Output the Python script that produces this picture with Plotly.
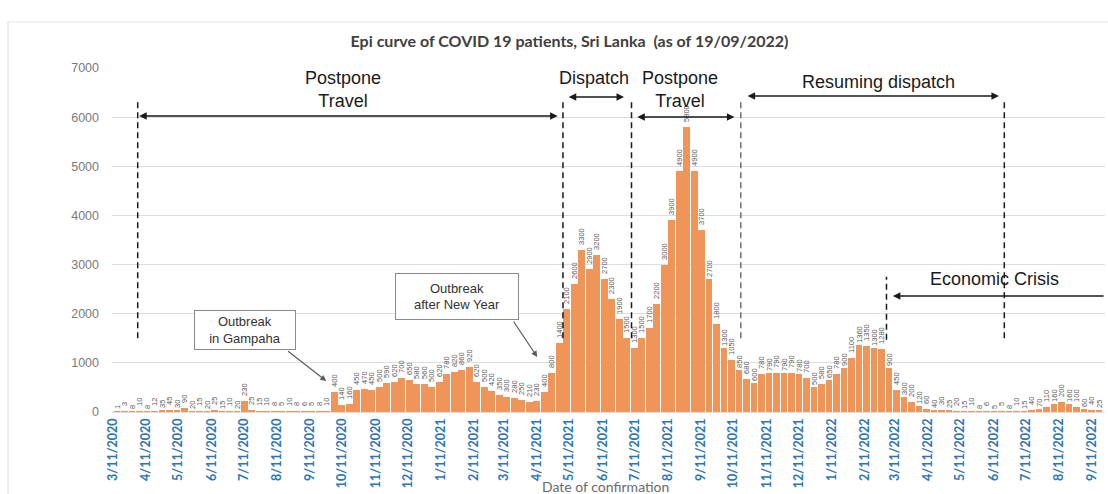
import pandas as pd
import plotly.graph_objects as go

# ---------------- data (weekly readings of the daily curve) ----------------
week_start = "2020-03-11"
weekly_cases = [
    1, 3, 8, 10, 8, 12, 35, 45, 30, 90,
    20, 15, 20, 25, 15, 10, 20, 230, 25, 15,
    10, 8, 5, 10, 8, 6, 5, 8, 10,
    400, 140, 160, 450, 470, 450, 500, 590, 620, 700,
    650, 580, 560, 500, 620, 780, 820, 860, 920, 620,
    500, 420, 350, 300, 280, 250, 210, 230, 400, 800,
    1400, 2100, 2600, 3300, 2900, 3200, 2700, 2300, 1900, 1500,
    1300, 1500, 1700, 2200, 3000, 3900, 4900, 5800, 4900, 3700,
    2700, 1800, 1300, 1050, 850, 680, 600, 780, 790, 790,
    790, 790, 780, 700, 500, 580, 650, 780, 900, 1100,
    1360, 1350, 1300, 1280, 900, 450, 300, 200, 120, 60,
    40, 30, 25, 20, 15, 10, 8, 6, 5, 5,
    8, 10, 15, 40, 70, 110, 160, 200, 160, 100,
    60, 40, 25,
]
tick_labels = [
    "3/11/2020", "4/11/2020", "5/11/2020", "6/11/2020", "7/11/2020", "8/11/2020",
    "9/11/2020", "10/11/2020", "11/11/2020", "12/11/2020", "1/11/2021", "2/11/2021",
    "3/11/2021", "4/11/2021", "5/11/2021", "6/11/2021", "7/11/2021", "8/11/2021",
    "9/11/2021", "10/11/2021", "11/11/2021", "12/11/2021", "1/11/2022", "2/11/2022",
    "3/11/2022", "4/11/2022", "5/11/2022", "6/11/2022", "7/11/2022", "8/11/2022",
    "9/11/2022",
]

title_text = "Epi curve of COVID 19 patients, Sri Lanka  (as of 19/09/2022)"
x_title = "Date of confirmation"

# ---------------- figure ----------------
bar_x = pd.date_range(week_start, periods=len(weekly_cases), freq="7D") + pd.Timedelta(hours=84)
tick_vals = pd.to_datetime(tick_labels, format="%m/%d/%Y")
DAY_MS = 86400000

fig = go.Figure()
fig.add_bar(
    x=bar_x, y=weekly_cases,
    width=7 * DAY_MS * 0.88,
    marker=dict(color="#F0955A", line=dict(width=0)),
    text=["\u00a0" + str(v) for v in weekly_cases],
    textposition="outside", textangle=-90,
    textfont=dict(family="Liberation Sans", size=7.5, color="#5a5a5a"),
    constraintext="none", cliponaxis=False,
    hoverinfo="x+y",
)

BLACK = "#1a1a1a"
shapes = []
# vertical dashed separators
for d, y0, y1, col in [
    ("2020-04-03", 1500, 6350, BLACK),
    ("2021-05-05", 1500, 6350, BLACK),
    ("2021-07-08", 1500, 6350, BLACK),
    ("2021-10-18", 1500, 6350, "#707070"),
    ("2022-06-21", 1500, 6350, BLACK),
    ("2022-03-03", 1470, 2750, BLACK),
]:
    shapes.append(dict(type="line", xref="x", yref="y", x0=d, x1=d, y0=y0, y1=y1,
                       line=dict(color=col, width=1.5, dash="6px,4px")))
# light chart frame
shapes.append(dict(type="line", xref="paper", yref="paper", x0=-0.1047, x1=-0.1047,
                   y0=1.134, y1=-0.3, line=dict(color="#d9d9d9", width=1)))
shapes.append(dict(type="line", xref="paper", yref="paper", x0=-0.1047, x1=1.01,
                   y0=1.134, y1=1.134, line=dict(color="#e6e6e6", width=1)))

ann = []
# double-headed period arrows
for a, b, y in [
    ("2020-04-03", "2021-04-30", 6024),
    ("2021-05-09", "2021-07-01", 6410),
    ("2021-07-12", "2021-10-12", 6003),
    ("2021-10-23", "2022-06-16", 6430),
]:
    ann.append(dict(x=b, y=y, ax=a, ay=y, xref="x", yref="y", axref="x", ayref="y",
                    text="", showarrow=True, arrowside="end+start",
                    arrowhead=2, startarrowhead=2, arrowsize=1, startarrowsize=1,
                    arrowwidth=1.5, arrowcolor=BLACK))
# economic crisis arrow
ann.append(dict(x="2022-03-09", y=2360, ax="2022-09-23", ay=2360, xref="x", yref="y",
                axref="x", ayref="y", text="", showarrow=True, arrowhead=2,
                arrowsize=1, arrowwidth=1.5, arrowcolor=BLACK))

big = dict(family="Liberation Sans", size=18, color=BLACK)
for x, y, t in [
    ("2020-10-12", 6553, "Postpone<br>Travel"),
    ("2021-06-03", 6797, "Dispatch"),
    ("2021-08-22", 6553, "Postpone<br>Travel"),
    ("2022-02-24", 6722, "Resuming dispatch"),
    ("2022-06-12", 2707, "Economic Crisis"),
]:
    ann.append(dict(x=x, y=y, xref="x", yref="y", text=t, showarrow=False, font=big))

small = dict(family="Liberation Sans", size=13, color="#333333")
ann.append(dict(x="2020-07-12", y=1669, xref="x", yref="y", text="Outbreak<br>in Gampaha",
                showarrow=False, font=small, bordercolor="#8a8a8a", borderwidth=1,
                borderpad=2, bgcolor="white", width=96, height=34))
ann.append(dict(x="2021-01-26", y=2350, xref="x", yref="y", text="Outbreak<br>after New Year",
                showarrow=False, font=small, bordercolor="#8a8a8a", borderwidth=1,
                borderpad=2, bgcolor="white", width=118, height=41))
for tip, tipy, tail, taily in [
    ("2020-09-26", 630, "2020-08-20", 1262),
    ("2021-04-11", 1119, "2021-03-19", 1872),
]:
    ann.append(dict(x=tip, y=tipy, ax=tail, ay=taily, xref="x", yref="y",
                    axref="x", ayref="y", text="", showarrow=True, arrowhead=2,
                    arrowsize=1, arrowwidth=1.2, arrowcolor="#5a5a5a"))

ann.append(dict(x=0.4965, y=-0.218, xref="paper", yref="paper", text=x_title,
                showarrow=False, yanchor="middle",
                font=dict(family="Lato", size=14, color="#6a6a6a")))

fig.update_layout(
    width=1108, height=494,
    margin=dict(l=112, r=3, t=68, b=82, autoexpand=False),
    paper_bgcolor="white", plot_bgcolor="white",
    showlegend=False,
    title=dict(text=title_text, x=0.514, xref="container", y=1 - 41 / 494,
               yanchor="middle", xanchor="center",
               font=dict(family="Lato", size=16, weight="bold", color="#404040")),
    xaxis=dict(type="date", range=["2020-03-10", "2022-09-23"], automargin=False,
               tickmode="array", tickvals=tick_vals, ticktext=tick_labels,
               tickangle=-90, ticks="", showgrid=False, showline=False, zeroline=False,
               tickfont=dict(family="Lato", size=12.5, weight="bold", color="#2E75B6"),
               ticklabelstandoff=3),
    yaxis=dict(range=[0, 7000], dtick=1000, showgrid=True, gridcolor="#dedede",
               gridwidth=1, zeroline=True, zerolinecolor="#dedede", zerolinewidth=1,
               ticks="", automargin=False,
               tickfont=dict(family="Liberation Sans", size=12.5, color="#7a7a7a"),
               ticklabelstandoff=12),
    shapes=shapes, annotations=ann,
    bargap=0,
)

fig.write_html(
    "out.html",
    config={"displayModeBar": False},
    post_script="document.body.style.margin='0';document.body.style.overflow='hidden';",
)
